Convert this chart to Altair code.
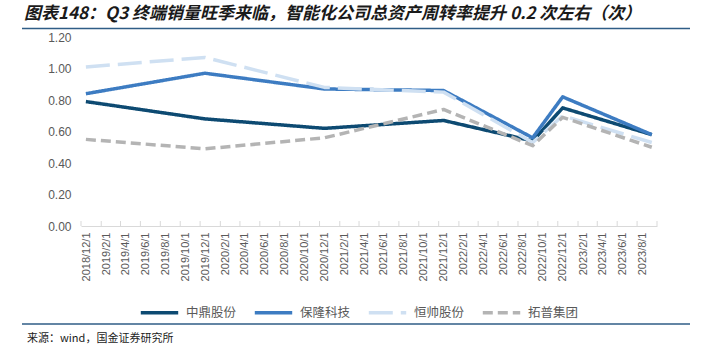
import altair as alt
import pandas as pd

# ---- data ----
dates = ["2018-12-16", "2019-12-16", "2020-12-16", "2021-12-16",
         "2022-09-15", "2022-12-16", "2023-09-15"]
series_names = ["中鼎股份", "保隆科技", "恒帅股份", "拓普集团"]
zhongding = [0.79, 0.68, 0.62, 0.67, 0.54, 0.75, 0.58]
baolong = [0.84, 0.97, 0.87, 0.86, 0.56, 0.82, 0.58]
hengshuai = [1.01, 1.07, 0.88, 0.85, 0.53, 0.70, 0.53]
tuopu = [0.55, 0.49, 0.56, 0.74, 0.51, 0.69, 0.50]

tick_labels = ["2018/12/1", "2019/2/1", "2019/4/1", "2019/6/1", "2019/8/1",
               "2019/10/1", "2019/12/1", "2020/2/1", "2020/4/1", "2020/6/1",
               "2020/8/1", "2020/10/1", "2020/12/1", "2021/2/1", "2021/4/1",
               "2021/6/1", "2021/8/1", "2021/10/1", "2021/12/1", "2022/2/1",
               "2022/4/1", "2022/6/1", "2022/8/1", "2022/10/1", "2022/12/1",
               "2023/2/1", "2023/4/1", "2023/6/1", "2023/8/1"]
axis_end = "2023/10/1"
y_ticks = [0.0, 0.2, 0.4, 0.6, 0.8, 1.0, 1.2]

title_text = "图表148：Q3 终端销量旺季来临，智能化公司总资产周转率提升 0.2 次左右（次）"
source_text = "来源：wind，国金证券研究所"

colors = ["#0d4a72", "#3d7cc2", "#cfe0f2", "#b4b4b4"]
dashes = [[1, 0], [1, 0], [24, 8], [10, 5]]


def to_dt(s):
    y, m, d = [int(v) for v in s.split("/")]
    return alt.DateTime(year=y, month=m, date=d, utc=True)


rows = []
for name, vals in zip(series_names, [zhongding, baolong, hengshuai, tuopu]):
    for d, v in zip(dates, vals):
        rows.append({"date": d, "series": name, "value": v})
df = pd.DataFrame(rows)

tick_df = pd.DataFrame({"date": pd.to_datetime(
    [s.replace("/", "-") for s in tick_labels + [axis_end]]).strftime("%Y-%m-%d")})

W, H = 576, 189
font = "Noto Sans CJK SC"
latin = "Liberation Sans"

xscale = alt.Scale(type="utc", domain=[to_dt("2018/12/1"), to_dt(axis_end)], nice=False)
xaxis = alt.Axis(values=[to_dt(s) for s in tick_labels], format="%Y/%-m/%-d",
                 labelAngle=270, labelOffset=5, labelPadding=6,
                 labelFont=latin, labelFontSize=11, labelColor="#595959",
                 labelOverlap=False, labelFlush=False, labelBound=False,
                 domainColor="#d9d9d9", domainWidth=1, ticks=False,
                 grid=False, title=None)

legend_kw = dict(title=None, orient="none", direction="horizontal",
                 legendX=58, legendY=255, symbolType="stroke",
                 symbolSize=1400, symbolStrokeWidth=3.5,
                 labelFont=font, labelFontSize=12.5,
                 labelColor="#595959", columnPadding=10,
                 labelOffset=6, padding=0)

lines = alt.Chart(df).mark_line(strokeWidth=3.5, strokeJoin="round").encode(
    x=alt.X("date:T", scale=xscale, axis=xaxis),
    y=alt.Y("value:Q", scale=alt.Scale(domain=[0, 1.2], nice=False),
            axis=alt.Axis(values=y_ticks, format=".2f", domain=False, ticks=False,
                          grid=False, labelFont=latin, labelFontSize=12,
                          labelColor="#595959", labelPadding=10, title=None)),
    color=alt.Color("series:N", scale=alt.Scale(domain=series_names, range=colors),
                    sort=series_names, legend=alt.Legend(**legend_kw)),
    strokeDash=alt.StrokeDash("series:N", scale=alt.Scale(domain=series_names, range=dashes),
                              sort=series_names, legend=alt.Legend(**legend_kw)),
    detail="series:N",
)

ticks = alt.Chart(tick_df).mark_rule(color="#d9d9d9", strokeWidth=1).encode(
    x=alt.X("date:T", scale=xscale, axis=xaxis),
    y=alt.value(H - 5),
    y2=alt.value(H),
)

title = alt.Chart(pd.DataFrame({"t": [title_text]})).mark_text(
    align="left", baseline="middle", font=font, fontSize=17, fontWeight="bold",
    fontStyle="italic", color="#1a1a1a"
).encode(x=alt.value(-57), y=alt.value(-23), text="t:N")

title_rule = alt.Chart(pd.DataFrame({"a": [0]})).mark_rule(color="#2f5d86", strokeWidth=1.5).encode(
    x=alt.value(-59), x2=alt.value(609), y=alt.value(-8.5)
)

source_rule = alt.Chart(pd.DataFrame({"a": [0]})).mark_rule(color="#2f5d86", strokeWidth=1.5).encode(
    x=alt.value(-59), x2=alt.value(609), y=alt.value(287)
)

source = alt.Chart(pd.DataFrame({"t": [source_text]})).mark_text(
    align="left", baseline="middle", font=font, fontSize=11, color="#1a1a1a"
).encode(x=alt.value(-54), y=alt.value(302), text="t:N")

chart = alt.layer(lines, ticks, title_rule, title, source_rule, source).properties(
    width=W, height=H,
    autosize=alt.AutoSizeParams(type="none"),
    padding={"left": 81, "top": 37, "right": 46, "bottom": 127},
    background="white",
).configure_view(stroke=None)

chart.save("out.html", embed_options={"renderer": "svg", "actions": False})
